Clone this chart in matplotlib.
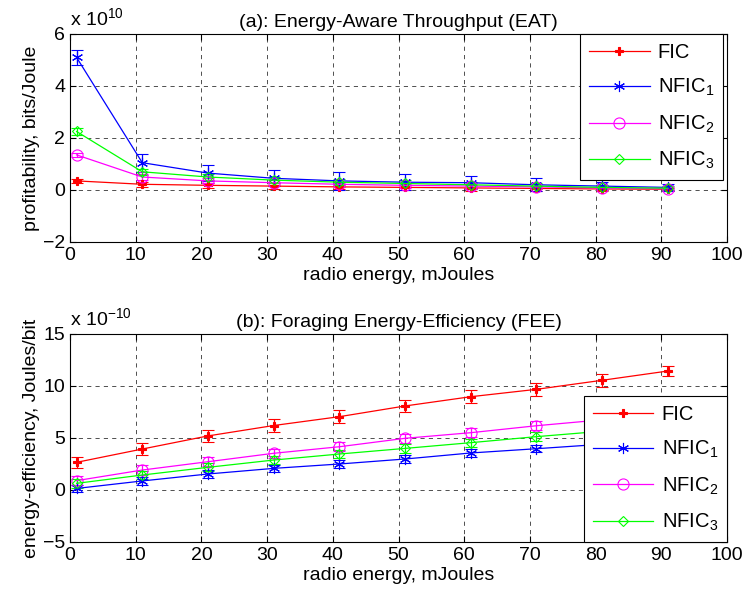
import numpy as np
import matplotlib
matplotlib.use('Agg')
import matplotlib.pyplot as plt

plt.rcParams['font.family'] = ['Liberation Sans', 'DejaVu Sans']
plt.rcParams['mathtext.fontset'] = 'custom'
plt.rcParams['mathtext.rm'] = 'Liberation Sans'
plt.rcParams['mathtext.it'] = 'Liberation Sans'
plt.rcParams['font.size'] = 13

## data
energy = [1, 11, 21, 31, 41, 51, 61, 71, 81, 91]
labels = ['FIC', 'NFIC$_1$', 'NFIC$_2$', 'NFIC$_3$']

# (a) EAT, units of 1e10 bits/Joule
eat_fic = [0.35, 0.22, 0.18, 0.15, 0.12, 0.10, 0.08, 0.06, 0.04, 0.03]
eat_nfic1 = [5.1, 1.05, 0.65, 0.45, 0.35, 0.30, 0.28, 0.20, 0.15, 0.10]
eat_nfic2 = [1.35, 0.50, 0.35, 0.28, 0.22, 0.18, 0.15, 0.12, 0.08, 0.05]
eat_nfic3 = [2.25, 0.70, 0.50, 0.38, 0.30, 0.25, 0.20, 0.15, 0.10, 0.07]
eat_err_fic = [0.08, 0.1, 0.1, 0.1, 0.1, 0.1, 0.1, 0.1, 0.08, 0.06]
eat_err_nfic1 = [0.3, 0.35, 0.3, 0.3, 0.35, 0.3, 0.25, 0.25, 0.15, 0.12]
eat_err_nfic2 = [0.08, 0.1, 0.1, 0.1, 0.1, 0.1, 0.1, 0.1, 0.08, 0.06]
eat_err_nfic3 = [0.15, 0.12, 0.12, 0.12, 0.12, 0.12, 0.12, 0.12, 0.1, 0.08]

# (b) FEE, units of 1e-10 Joules/bit
fee_fic = [2.66, 3.94, 5.2, 6.2, 7.05, 8.08, 8.97, 9.68, 10.55, 11.44]
fee_nfic1 = [0.15, 0.87, 1.54, 2.08, 2.5, 2.98, 3.56, 3.97, 4.4, 4.8]
fee_nfic2 = [0.9, 1.92, 2.72, 3.53, 4.16, 4.97, 5.51, 6.18, 6.75, 7.35]
fee_nfic3 = [0.64, 1.44, 2.18, 2.88, 3.46, 4.0, 4.55, 5.13, 5.65, 6.2]
fee_err_fic = [0.55, 0.6, 0.6, 0.6, 0.6, 0.6, 0.6, 0.6, 0.6, 0.45]
fee_err_nfic1 = [0.35, 0.35, 0.35, 0.35, 0.35, 0.35, 0.35, 0.35, 0.35, 0.35]
fee_err_nfic2 = [0.45, 0.45, 0.45, 0.45, 0.45, 0.45, 0.45, 0.45, 0.45, 0.45]
fee_err_nfic3 = [0.4, 0.4, 0.4, 0.4, 0.4, 0.4, 0.4, 0.4, 0.4, 0.4]

colors = ['#ff0000', '#0000ff', '#ff00ff', '#00ff00']
markers = ['P', (6, 2, 0), 'o', 'D']
msizes = [6, 8, 8, 5]
hollow = [False, False, True, True]


def style_axes(ax, ylim, yticks):
    ax.set_xlim(0, 100)
    ax.set_ylim(*ylim)
    ax.set_xticks(np.arange(0, 101, 10))
    ax.set_yticks(yticks)
    ax.grid(True, color='black', linestyle=(0, (5, 5)), linewidth=0.6, alpha=0.8)
    ax.tick_params(direction='in', top=True, right=True, length=4, labelsize=14)
    for s in ax.spines.values():
        s.set_linewidth(0.8)


def draw(ax, series, errs):
    handles = []
    for y, e, c, m, ms, hl, lab in zip(series, errs, colors, markers, msizes, hollow, labels):
        ax.errorbar(energy, y, yerr=e, color=c, linewidth=0.9, elinewidth=0.9,
                    capsize=4.5, capthick=0.9, marker=m, markersize=ms,
                    markerfacecolor='none' if hl else c,
                    markeredgecolor=c, markeredgewidth=0.8)
        h, = ax.plot([], [], color=c, linewidth=0.9, marker=m, markersize=ms,
                     markerfacecolor='none' if hl else c,
                     markeredgecolor=c, markeredgewidth=0.8, label=lab)
        handles.append(h)
    return handles


fig = plt.figure(figsize=(7.43, 6.03), dpi=100)
ax1 = fig.add_axes([70 / 743, 1 - 242 / 603, 657 / 743, 208 / 603])
ax2 = fig.add_axes([70 / 743, 1 - 542 / 603, 657 / 743, 208 / 603])

style_axes(ax1, (-2, 6), [-2, 0, 2, 4, 6])
h1 = draw(ax1, [eat_fic, eat_nfic1, eat_nfic2, eat_nfic3],
          [eat_err_fic, eat_err_nfic1, eat_err_nfic2, eat_err_nfic3])
ax1.set_title('(a): Energy-Aware Throughput (EAT)', fontsize=14, pad=5)
ax1.set_xlabel('radio energy, mJoules', fontsize=14, labelpad=2)
ax1.set_ylabel('profitability, bits/Joule', fontsize=14, labelpad=2)
ax1.text(0, 1.025, 'x 10$^{10}$', transform=ax1.transAxes, fontsize=14, va='bottom')
leg1 = ax1.legend(handles=h1, loc='upper right', bbox_to_anchor=(0.994, 1.0),
                  fontsize=14.5, labelspacing=0.75, handlelength=3.0, handletextpad=0.4,
                  fancybox=False, edgecolor='black', framealpha=1, borderpad=0.45,
                  borderaxespad=0)
leg1.get_frame().set_linewidth(0.8)

style_axes(ax2, (-5, 15), [-5, 0, 5, 10, 15])
h2 = draw(ax2, [fee_fic, fee_nfic1, fee_nfic2, fee_nfic3],
          [fee_err_fic, fee_err_nfic1, fee_err_nfic2, fee_err_nfic3])
ax2.set_title('(b): Foraging Energy-Efficiency (FEE)', fontsize=14, pad=5)
ax2.set_xlabel('radio energy, mJoules', fontsize=14, labelpad=2)
ax2.set_ylabel('energy-efficiency, Joules/bit', fontsize=14, labelpad=2)
ax2.text(0, 1.025, 'x 10$^{-10}$', transform=ax2.transAxes, fontsize=14, va='bottom')
leg2 = ax2.legend(handles=h2, loc='lower right', bbox_to_anchor=(1.0, 0.0),
                  fontsize=14.5, labelspacing=0.75, handlelength=3.0, handletextpad=0.4,
                  fancybox=False, edgecolor='black', framealpha=1, borderpad=0.45,
                  borderaxespad=0)
leg2.get_frame().set_linewidth(0.8)

fig.savefig('out.png', dpi=100)
